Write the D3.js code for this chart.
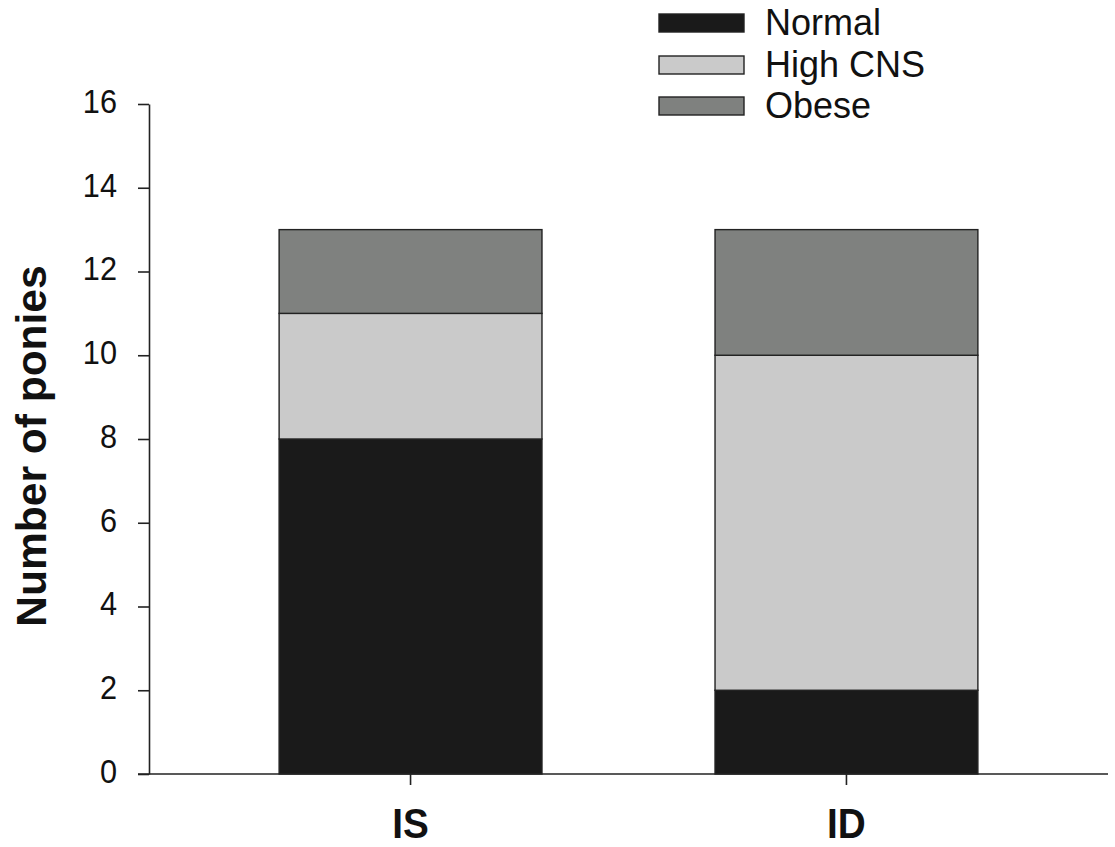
<!DOCTYPE html>
<html>
<head>
<meta charset="utf-8">
<script src="https://cdn.jsdelivr.net/npm/d3@7"></script>
<style>
  html, body { margin: 0; padding: 0; background: #fff; }
  svg { display: block; font-family: "Liberation Sans", Arial, sans-serif; }
</style>
</head>
<body>
<svg id="chart" width="1115" height="847"></svg>
<script>
const categories = ["IS", "ID"];
const seriesNames = ["Normal", "High CNS", "Obese"];
const normalValues = [8, 2];
const highCNSValues = [3, 8];
const obeseValues = [2, 3];
const yTicks = [0, 2, 4, 6, 8, 10, 12, 14, 16];
const colors = ["#1a1a1a", "#cacaca", "#7f817f"];

(function () {
const svg = d3.select("#chart");
const mLeft = 149, mRight = 1108, mTop = 104, mBottom = 774;

function squeeze(sel, f) {
  sel.each(function () {
    const L = this.getComputedTextLength();
    d3.select(this).attr("textLength", L * f).attr("lengthAdjust", "spacingAndGlyphs");
  });
}

const rows = categories.map((c, i) => ({
  cat: c, "Normal": normalValues[i], "High CNS": highCNSValues[i], "Obese": obeseValues[i]
}));
const stacked = d3.stack().keys(seriesNames)(rows);

const x = d3.scaleBand().domain(categories).range([mLeft, mRight])
  .paddingInner(0.397).paddingOuter(0.2985);
const y = d3.scaleLinear().domain([0, 16]).range([mBottom, mTop]);

// bars
svg.append("g").selectAll("g").data(stacked).join("g")
  .attr("fill", (d, i) => colors[i])
  .selectAll("rect").data(d => d).join("rect")
  .attr("x", d => x(d.data.cat))
  .attr("width", x.bandwidth())
  .attr("y", d => y(d[1]))
  .attr("height", d => y(d[0]) - y(d[1]))
  .attr("stroke", "#222")
  .attr("stroke-width", 1.4);

// y axis
const yAxis = svg.append("g").attr("transform", `translate(${mLeft},0)`)
  .call(d3.axisLeft(y).tickValues(yTicks).tickSize(11).tickPadding(21).tickSizeOuter(0));
yAxis.select(".domain").attr("stroke", "#222").attr("stroke-width", 1.6);
yAxis.selectAll(".tick line").attr("stroke", "#222").attr("stroke-width", 1.6);
yAxis.selectAll(".tick text").attr("font-size", 33).attr("fill", "#111")
  .attr("dy", "0.25em")
  .attr("font-family", "Liberation Sans, Arial, sans-serif")
  .call(squeeze, 0.93);

// x axis
const xAxis = svg.append("g").attr("transform", `translate(0,${mBottom})`)
  .call(d3.axisBottom(x).tickSize(11).tickPadding(0).tickSizeOuter(0));
xAxis.select(".domain").attr("d", `M${mLeft - 11},0H${mRight}`)
  .attr("stroke", "#222").attr("stroke-width", 1.6);
xAxis.selectAll(".tick line").attr("stroke", "#222").attr("stroke-width", 1.6);
xAxis.selectAll(".tick text").attr("font-size", 43).attr("font-weight", "bold")
  .attr("y", 64).attr("dy", null)
  .attr("fill", "#111").attr("font-family", "Liberation Sans, Arial, sans-serif")
  .call(squeeze, 0.9);

// y label
svg.append("text")
  .attr("transform", `translate(46,446) rotate(-90)`)
  .attr("text-anchor", "middle")
  .attr("font-size", 42.5).attr("font-weight", "bold").attr("fill", "#111")
  .text("Number of ponies");

// legend
const legendY = [23, 65, 106];
const lg = svg.append("g").selectAll("g").data(seriesNames).join("g")
  .attr("transform", (d, i) => `translate(659,${legendY[i]})`);
lg.append("rect").attr("x", 0).attr("y", -9).attr("width", 85).attr("height", 18)
  .attr("fill", (d, i) => colors[i]).attr("stroke", "#222").attr("stroke-width", 1.4);
lg.append("text").attr("x", 106).attr("y", 11.5)
  .attr("font-size", 36).attr("fill", "#111").text(d => d);
})();
</script>
</body>
</html>
